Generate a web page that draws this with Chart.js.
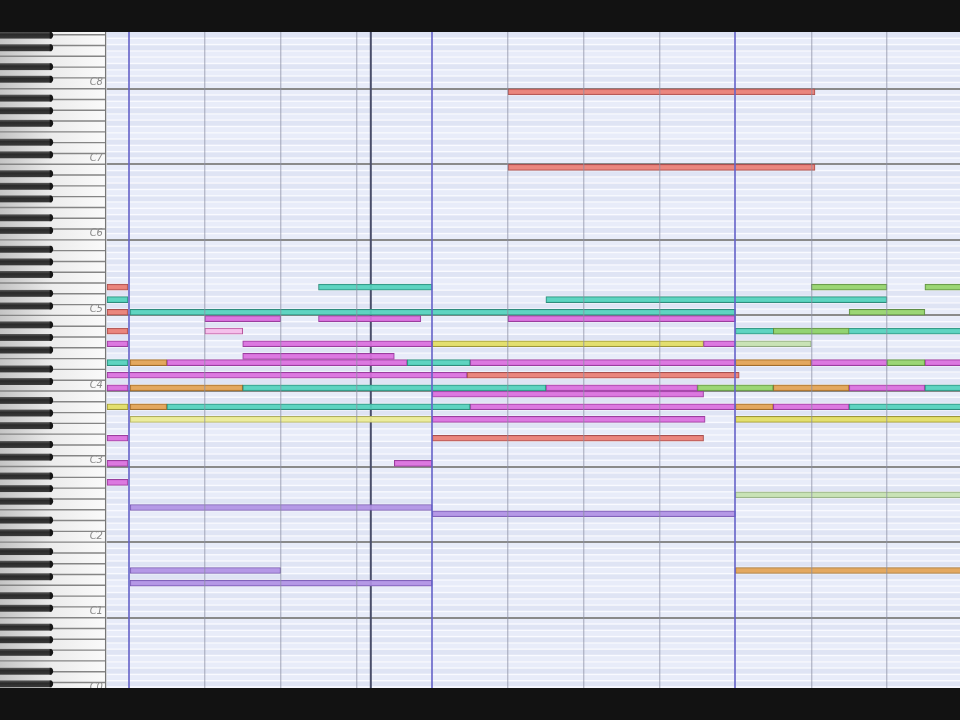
<!DOCTYPE html>
<html><head><meta charset="utf-8">
<script src="https://cdn.jsdelivr.net/npm/chart.js@4.4.1/dist/chart.umd.min.js"></script>
<style>html,body{margin:0;padding:0;background:#121212;}#wrap{width:960px;height:720px;}</style>
</head><body><div id="wrap"><canvas id="c" width="960" height="720"></canvas></div>
<script>
// ---- axis ranges (x in beats from first measure line, y in MIDI pitch) ----
const X_MIN = -1.702, X_MAX = 10.963;
const Y_MIN = 12.84, Y_MAX = 117.0;
const ROLL_START = -0.29;      // left edge of the note area
const KEY_BLACK_END = -1.02;   // right end of black piano keys
const KEY_END = -0.317;        // right end of the keyboard
const CURSOR_BEAT = 3.19;      // dark marker line
const BEATS_PER_MEASURE = 4;

// octave tick labels
const octaveValues = [12, 24, 36, 48, 60, 72, 84, 96, 108];
const octaveLabels = ['C0', 'C1', 'C2', 'C3', 'C4', 'C5', 'C6', 'C7', 'C8'];

// notes: [pitch, startBeat, endBeat]
const redNotes = [[107,5,9.05],[95,5,9.05],[76,-0.29,0],[72,-0.29,0],[69,-0.29,0],[62,4.46,8.05],[52,4,7.58]];
const tealNotes = [[76,2.5,4],[74,-0.29,0],[74,5.5,10],[72,0,8],[69,8,11.2],[64,-0.29,0],[64,3.67,4.5],[60,1.5,5.5],[60,10.5,11.2],[57,0.5,4.5],[57,9.5,11.2]];
const magentaNotes = [[71,1,2],[71,2.5,3.85],[71,5,8],[67,-0.29,0],[67,1.5,4],[67,7.58,8],[65,1.5,3.5],[64,0.5,3.67],[64,4.5,8],[64,9,10],[64,10.5,11.2],[62,-0.29,4.46],[60,-0.29,0],[60,5.5,7.5],[60,9.5,10.5],[59,4,7.58],[57,4.5,8],[57,8.5,9.5],[55,4,7.6],[52,-0.29,0],[48,-0.29,0],[48,3.5,4],[45,-0.29,0]];
const pinkNotes = [[69,1,1.5]];
const orangeNotes = [[64,0,0.5],[64,8,9],[60,0,1.5],[60,8.5,9.5],[57,0,0.5],[57,8,8.5],[31,8,11.2]];
const yellowNotes = [[67,4,7.58],[57,-0.29,0],[55,8,11.2]];
const paleYellowNotes = [[55,0,4]];
const greenNotes = [[76,9,10],[76,10.5,11.2],[72,9.5,10.5],[69,8.5,9.5],[64,10,10.5],[60,7.5,8.5]];
const paleGreenNotes = [[67,8,9],[43,8,11.2]];
const purpleNotes = [[41,0,4],[40,4,8],[31,0,2],[29,0,4]];

const BLACK = [1,3,6,8,10];
const toBars = arr => arr.map(n => ({x:[n[1], n[2]], y:n[0] + 0.5}));
function ds(label, arr, fill, border){
  return {label, data: toBars(arr), backgroundColor: fill, borderColor: border,
    borderWidth: 1, borderSkipped: false, barThickness: 6, grouped: false};
}

const rollPlugin = {
  id: 'roll',
  beforeDraw(chart){
    const {ctx, chartArea: a, scales: {x, y}} = chart;
    ctx.save();
    ctx.fillStyle = '#121212';
    ctx.fillRect(0, 0, chart.width, chart.height);
    ctx.beginPath(); ctx.rect(a.left, a.top, a.right - a.left, a.bottom - a.top); ctx.clip();
    for (let p = Math.floor(Y_MIN); p < Y_MAX; p++){
      const top = y.getPixelForValue(p + 1), bot = y.getPixelForValue(p);
      ctx.fillStyle = BLACK.includes(p % 12) ? '#dfe4f4' : '#e8ecf9';
      ctx.fillRect(a.left, top, a.right - a.left, bot - top);
      ctx.fillStyle = '#f9faff';
      ctx.fillRect(a.left, bot - 0.7, a.right - a.left, 1.4);
    }
    ctx.restore();
  },
  beforeDatasetsDraw(chart){
    const {ctx, chartArea: a, scales: {x, y}} = chart;
    ctx.save();
    ctx.beginPath(); ctx.rect(a.left, a.top, a.right - a.left, a.bottom - a.top); ctx.clip();
    // cursor line
    const cx = x.getPixelForValue(CURSOR_BEAT);
    ctx.strokeStyle = '#4a4e6a'; ctx.lineWidth = 2;
    ctx.beginPath(); ctx.moveTo(cx, a.top); ctx.lineTo(cx, a.bottom); ctx.stroke();
    // keyboard
    const x0 = x.getPixelForValue(X_MIN), xb = x.getPixelForValue(KEY_BLACK_END), xe = x.getPixelForValue(KEY_END);
    const g = ctx.createLinearGradient(x0, 0, xe, 0);
    g.addColorStop(0, '#c4c4c4'); g.addColorStop(0.5, '#ececec'); g.addColorStop(1, '#fafafa');
    ctx.fillStyle = g;
    ctx.fillRect(x0, a.top, xe - x0, a.bottom - a.top);
    ctx.strokeStyle = '#858585'; ctx.lineWidth = 1.4;
    for (let c = 0; c <= 120; c += 12){
      for (let k = 0; k < 7; k++){
        const py = y.getPixelForValue(c + k * 12 / 7);
        ctx.beginPath(); ctx.moveTo(x0, py); ctx.lineTo(xe, py); ctx.stroke();
      }
    }
    for (let p = Math.floor(Y_MIN); p < Y_MAX; p++){
      if (!BLACK.includes(p % 12)) continue;
      const top = y.getPixelForValue(p + 1) - 0.3, bot = y.getPixelForValue(p) + 0.3;
      const bg = ctx.createLinearGradient(0, top, 0, bot);
      bg.addColorStop(0, '#5a5a5a'); bg.addColorStop(0.4, '#2a2a2a'); bg.addColorStop(1, '#3a3a3a');
      ctx.fillStyle = bg;
      ctx.fillRect(x0, top, xb - x0, bot - top);
      ctx.fillStyle = '#161616';
      ctx.beginPath(); ctx.arc(xb - 2, (top + bot) / 2, (bot - top) / 2, -Math.PI / 2, Math.PI / 2); ctx.fill();
    }
    ctx.fillStyle = '#777';
    ctx.fillRect(xe, a.top, 1.5, a.bottom - a.top);
    ctx.fillStyle = '#f3f5fc';
    ctx.fillRect(xe + 1.5, a.top, x.getPixelForValue(ROLL_START) - xe - 1.5, a.bottom - a.top);
    // octave labels
    ctx.fillStyle = '#8a8a8a';
    ctx.font = 'italic 10px "DejaVu Sans"';
    ctx.textAlign = 'right'; ctx.textBaseline = 'bottom';
    octaveValues.forEach((v, i) => {
      ctx.fillText(octaveLabels[i], xe - 2, y.getPixelForValue(v) - 1);
    });
    ctx.restore();
  },
  afterDraw(chart){
    const {ctx, chartArea: a} = chart;
    ctx.save();
    ctx.fillStyle = '#121212';
    ctx.fillRect(0, 0, chart.width, a.top);
    ctx.fillRect(0, a.bottom, chart.width, chart.height - a.bottom);
    ctx.restore();
  }
};

new Chart(document.getElementById('c'), {
  type: 'bar',
  data: {datasets: [
    ds('green', greenNotes, 'rgba(150,212,108,0.93)', '#5f8e45'),
    ds('paleGreen', paleGreenNotes, 'rgba(198,226,176,0.93)', '#8fa880'),
    ds('pink', pinkNotes, 'rgba(246,190,234,0.95)', '#b8569e'),
    ds('red', redNotes, 'rgba(234,126,116,0.93)', '#a85050'),
    ds('teal', tealNotes, 'rgba(84,210,188,0.93)', '#2f8c7c'),
    ds('magenta', magentaNotes, 'rgba(218,112,222,0.93)', '#9a3e9e'),
    ds('orange', orangeNotes, 'rgba(226,162,84,0.93)', '#a06c2c'),
    ds('yellow', yellowNotes, 'rgba(226,222,100,0.93)', '#9c963a'),
    ds('paleYellow', paleYellowNotes, 'rgba(236,236,150,0.93)', '#aeae60'),
    ds('purple', purpleNotes, 'rgba(176,146,228,0.93)', '#7456ae')
  ]},
  options: {
    indexAxis: 'y',
    responsive: false,
    animation: false,
    layout: {padding: {top: 32, bottom: 32, left: 0, right: 0}},
    plugins: {legend: {display: false}, tooltip: {enabled: false}},
    scales: {
      x: {
        type: 'linear', min: X_MIN, max: X_MAX, offset: false,
        ticks: {display: false, stepSize: 1, maxTicksLimit: 1000, includeBounds: false},
        border: {display: false},
        grid: {
          offset: false, drawTicks: false, z: 1,
          color: c => c.tick.value < 0 ? 'rgba(0,0,0,0)' : (c.tick.value % BEATS_PER_MEASURE === 0 ? 'rgba(100,98,200,0.8)' : 'rgba(140,144,164,0.55)'),
          lineWidth: c => c.tick.value % BEATS_PER_MEASURE === 0 ? 2 : 1.4
        },
        afterFit: s => { s.height = 0; }
      },
      y: {
        type: 'linear', min: Y_MIN, max: Y_MAX, offset: false,
        ticks: {display: false, stepSize: 1, maxTicksLimit: 1000, includeBounds: false},
        border: {display: false},
        grid: {
          offset: false, drawTicks: false,
          color: c => c.tick.value % 12 === 0 ? '#8a8a8a' : 'rgba(0,0,0,0)',
          lineWidth: c => c.tick.value % 12 === 0 ? 2 : 0
        },
        afterFit: s => { s.width = 0; }
      }
    }
  },
  plugins: [rollPlugin]
});
</script></body></html>
